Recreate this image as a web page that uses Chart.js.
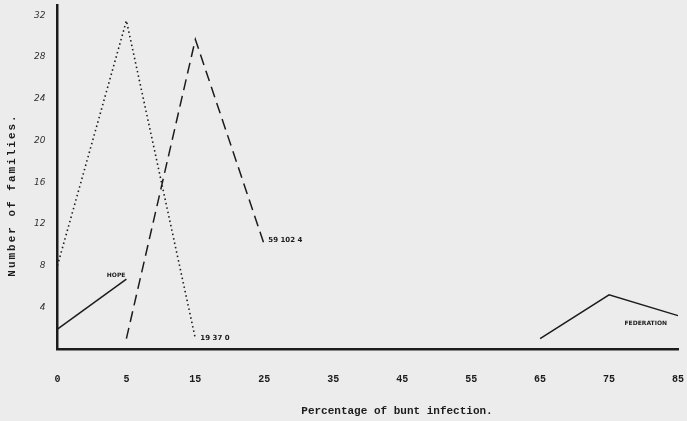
<!DOCTYPE html>
<html>
<head>
<meta charset="utf-8">
<script src="https://cdn.jsdelivr.net/npm/chart.js@4.4.1/dist/chart.umd.min.js"></script>
<style>
  html, body { margin: 0; padding: 0; background: #ececec; }
  #wrap { width: 687px; height: 421px; }
</style>
</head>
<body>
<div id="wrap"><canvas id="c" width="687" height="421"></canvas></div>
<script>
// Categories (percentage of bunt infection)
const categories = ['0', '5', '15', '25', '35', '45', '55', '65', '75', '85'];
// Number of families per series
const dottedSeries = [8, 31.5, 1, null, null, null, null, null, null, null];
const dashedSeries = [null, 1, 29.7, 10, null, null, null, null, null, null];
const hopeSeries = [1.9, 6.7, null, null, null, null, null, null, null, null];
const federationSeries = [null, null, null, null, null, null, null, 1, 5.2, 3.2];
// Y tick labels
const yTickValues = [4, 8, 12, 16, 20, 24, 28, 32];
// Text
const xTitle = 'Percentage of bunt infection.';
const yTitle = 'Number of families.';
const noteDotted = '19 37 0';
const noteDashed = '59 102 4';
const noteHope = 'HOPE';
const noteFederation = 'FEDERATION';

const ink = '#1c1c1c';

const bgPlugin = {
  id: 'bg',
  beforeDraw(chart) {
    const ctx = chart.ctx;
    ctx.save();
    ctx.fillStyle = '#ececec';
    ctx.fillRect(0, 0, chart.width, chart.height);
    ctx.restore();
  }
};

const notesPlugin = {
  id: 'notes',
  afterDatasetsDraw(chart) {
    const ctx = chart.ctx;
    const x = chart.scales.x, y = chart.scales.y;
    ctx.save();
    ctx.fillStyle = ink;
    ctx.textBaseline = 'middle';
    ctx.font = 'bold 7px "DejaVu Sans"';
    // dotted series end note
    ctx.textAlign = 'left';
    ctx.fillText(noteDotted, x.getPixelForValue(2) + 5, y.getPixelForValue(dottedSeries[2]));
    // dashed series end note
    ctx.fillText(noteDashed, x.getPixelForValue(3) + 4, y.getPixelForValue(dashedSeries[3]) - 5);
    // HOPE
    ctx.font = 'bold 6px "DejaVu Sans"';
    ctx.textAlign = 'right';
    ctx.fillText(noteHope, x.getPixelForValue(1) - 1, y.getPixelForValue(hopeSeries[1]) - 4);
    // FEDERATION
    ctx.fillText(noteFederation, x.getPixelForValue(9) - 11, y.getPixelForValue(federationSeries[9]) + 8);

    // Axis titles
    ctx.font = 'bold 11px "Liberation Mono"';
    ctx.textAlign = 'center';
    ctx.fillText(xTitle, 397, 411);
    ctx.translate(12, 195);
    ctx.rotate(-Math.PI / 2);
    try { ctx.letterSpacing = '2px'; } catch (e) {}
    ctx.fillText(yTitle, 0, 0);
    ctx.restore();
  }
};

function ds(data, dash, width) {
  return {
    data: data,
    borderColor: ink,
    borderWidth: width,
    borderDash: dash,
    pointRadius: 0,
    fill: false,
    tension: 0,
    spanGaps: false
  };
}

new Chart(document.getElementById('c'), {
  type: 'line',
  data: {
    labels: categories,
    datasets: [
      ds(dottedSeries, [1.5, 3], 1.6),
      ds(dashedSeries, [11, 6], 1.5),
      ds(hopeSeries, [], 1.5),
      ds(federationSeries, [], 1.5)
    ]
  },
  options: {
    responsive: false,
    animation: false,
    layout: { padding: { left: 22, right: 9, top: 5, bottom: 12 } },
    plugins: { legend: { display: false }, tooltip: { enabled: false } },
    scales: {
      x: {
        type: 'category',
        offset: false,
        grid: { display: false, drawTicks: false },
        border: { display: true, color: ink, width: 2.5 },
        afterFit(scale) { scale.paddingRight = 0; scale.paddingLeft = 0; },
        ticks: {
          color: ink,
          padding: 24,
          maxRotation: 0,
          autoSkip: false,
          font: { family: '"Liberation Mono"', size: 10, weight: 'bold' }
        }
      },
      y: {
        min: 0,
        max: 33,
        grid: { display: false, drawTicks: false },
        border: { display: true, color: ink, width: 2.5 },
        afterBuildTicks(axis) {
          axis.ticks = yTickValues.map(v => ({ value: v }));
        },
        afterFit(scale) { scale.paddingTop = 0; scale.paddingBottom = 0; },
        ticks: {
          color: '#333',
          padding: 12,
          font: { family: '"DejaVu Sans"', size: 9, style: 'italic' }
        }
      }
    }
  },
  plugins: [bgPlugin, notesPlugin]
});
</script>
</body>
</html>
